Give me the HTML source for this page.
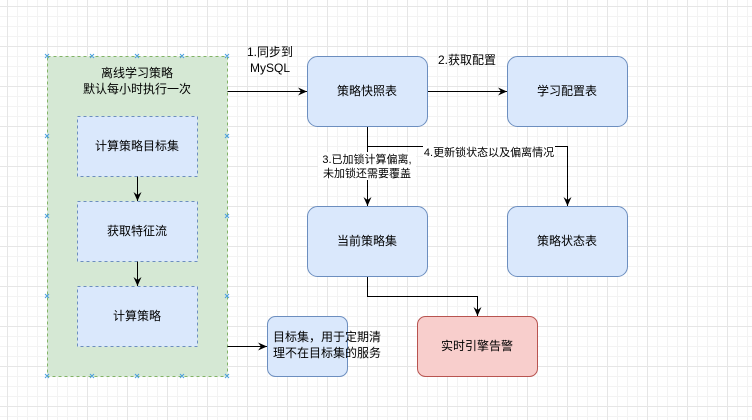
<!DOCTYPE html>
<html><head><meta charset="utf-8"><style>
body{margin:0;width:752px;height:420px;overflow:hidden;background:#fff;
background-image:linear-gradient(#e6e6e6 1px,transparent 1px),linear-gradient(90deg,#e6e6e6 1px,transparent 1px),linear-gradient(#f3f3f3 1px,transparent 1px),linear-gradient(90deg,#f3f3f3 1px,transparent 1px);
background-size:40px 40px,40px 40px,10px 10px,10px 10px;background-position:0 6px,7px 0,0 6px,7px 0;}
svg{position:absolute;left:0;top:0}
text{font-family:"Liberation Sans","Noto Sans CJK SC",sans-serif;font-size:12px;fill:#000}
</style></head><body>
<svg width="752" height="420" viewBox="0 0 752 420">
<defs><marker id="a" markerWidth="10" markerHeight="10" refX="9" refY="5" orient="auto" markerUnits="userSpaceOnUse"><path d="M0,1 L9,5 L0,9 L3,5z" fill="#000"/></marker></defs>
<rect x="47.5" y="56.5" width="180" height="320" fill="#d5e8d4" stroke="#82b366" stroke-dasharray="3,3"/>
<text x="137" y="77" text-anchor="middle">离线学习策略</text>
<text x="137" y="93" text-anchor="middle">默认每小时执行一次</text>
<g fill="#dae8fc" stroke="#6c8ebf" stroke-dasharray="3,3">
<rect x="77.5" y="116.5" width="120" height="60"/>
<rect x="77.5" y="201.5" width="120" height="60"/>
<rect x="77.5" y="286.5" width="120" height="60"/>
</g>
<text x="137" y="150" text-anchor="middle">计算策略目标集</text>
<text x="137" y="235" text-anchor="middle">获取特征流</text>
<text x="137" y="320" text-anchor="middle">计算策略</text>
<g stroke="#000" fill="none" marker-end="url(#a)">
<path d="M137.5 176.5V201"/>
<path d="M137.5 261.5V286"/>
<path d="M227.5 91.5H307"/>
<path d="M427.5 91.5H507"/>
<path d="M367.5 126.5V206"/>
<path d="M367.5 146.5H567.5V206"/>
<path d="M367.5 276.5V296.5H477.5V316"/>
<path d="M227.5 346.5H267"/>
</g>
<g fill="#dae8fc" stroke="#6c8ebf">
<rect x="307.5" y="56.5" width="120" height="70" rx="10"/>
<rect x="507.5" y="56.5" width="120" height="70" rx="10"/>
<rect x="307.5" y="206.5" width="120" height="70" rx="10"/>
<rect x="507.5" y="206.5" width="120" height="70" rx="10"/>
<rect x="267.5" y="316.5" width="80" height="60" rx="8"/>
</g>
<rect x="417.5" y="316.5" width="120" height="60" rx="8" fill="#f8cecc" stroke="#b85450"/>
<text x="367" y="95" text-anchor="middle">策略快照表</text>
<text x="567" y="95" text-anchor="middle">学习配置表</text>
<text x="367" y="245" text-anchor="middle">当前策略集</text>
<text x="567" y="245" text-anchor="middle">策略状态表</text>
<text x="477" y="350" text-anchor="middle">实时引擎告警</text>
<text x="273" y="341">目标集，用于定期清</text>
<text x="273" y="357">理不在目标集的服务</text>
<text x="270" y="56" text-anchor="middle">1.同步到</text>
<text x="270" y="72" text-anchor="middle">MySQL</text>
<text x="467" y="64" text-anchor="middle">2.获取配置</text>
<rect x="318" y="152" width="98" height="28" fill="#fff"/>
<text x="367" y="163" text-anchor="middle" style="font-size:11px">3.已加锁计算偏离,</text>
<text x="367" y="177" text-anchor="middle" style="font-size:11px">未加锁还需要覆盖</text>
<rect x="423" y="146" width="132" height="13" fill="#fff"/>
<text x="489" y="156" text-anchor="middle" style="font-size:11px">4.更新锁状态以及偏离情况</text>
<g stroke="#4a9fe0" stroke-width="1">
<path d="M45 54l4 4M49 54l-4 4M90 54l4 4M94 54l-4 4M135 54l4 4M139 54l-4 4M180 54l4 4M184 54l-4 4M225 54l4 4M229 54l-4 4"/>
<path d="M45 374l4 4M49 374l-4 4M90 374l4 4M94 374l-4 4M135 374l4 4M139 374l-4 4M180 374l4 4M184 374l-4 4M225 374l4 4M229 374l-4 4"/>
<path d="M45 134l4 4M49 134l-4 4M45 214l4 4M49 214l-4 4M45 294l4 4M49 294l-4 4"/>
<path d="M225 134l4 4M229 134l-4 4M225 214l4 4M229 214l-4 4M225 294l4 4M229 294l-4 4"/>
</g>
</svg>
</body></html>
